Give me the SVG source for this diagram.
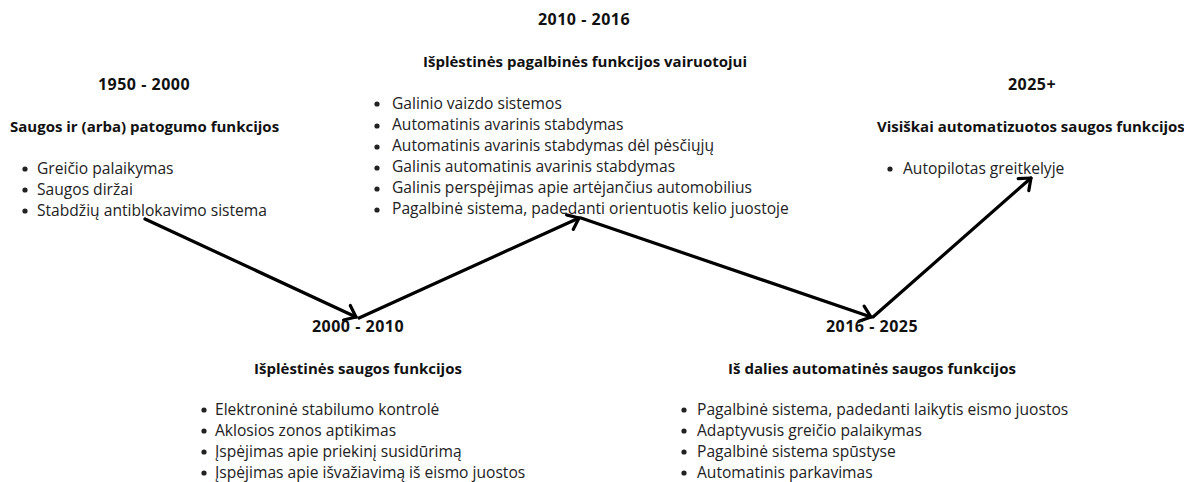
<svg xmlns="http://www.w3.org/2000/svg" width="1184" height="482" viewBox="0 0 1184 482">
  <style>
    .yr { font-family: "Open Sans", "Liberation Sans", sans-serif; font-weight: 700; font-size: 16px; letter-spacing: 0.5px; fill: #111; text-anchor: middle; }
    .hd { font-family: "Open Sans", "Liberation Sans", sans-serif; font-weight: 700; font-size: 15px; fill: #111; }
    .it { font-family: "Open Sans", "Liberation Sans", sans-serif; font-weight: 400; font-size: 15.6px; fill: #222; }
    .bul { fill: #222; }
    .conn { fill: none; stroke: #000; stroke-width: 3.2; stroke-linecap: round; }
  </style>
  <defs>
    <marker id="arrow" markerUnits="userSpaceOnUse" markerWidth="24" markerHeight="24" viewBox="-12 -12 24 24" refX="0" refY="0" orient="auto">
      <path d="M-10,-8 L0,0 L-10,8" fill="none" stroke="#000" stroke-width="3.2" stroke-linecap="round" stroke-linejoin="round"/>
    </marker>
  </defs>
  <rect width="1184" height="482" fill="#fff"/>

  <!-- connectors -->
  <g id="connectors">
    <line class="conn" x1="145" y1="219" x2="356" y2="317" marker-end="url(#arrow)"/>
    <line class="conn" x1="359" y1="318" x2="579" y2="218" marker-end="url(#arrow)"/>
    <line class="conn" x1="581" y1="218" x2="871" y2="317" marker-end="url(#arrow)"/>
    <line class="conn" x1="873" y1="317" x2="1031" y2="178" marker-end="url(#arrow)"/>
  </g>

  <!-- 1950 - 2000 -->
  <g id="era-1950">
    <text class="yr" x="144" y="90">1950 - 2000</text>
    <text class="hd" x="10" y="132">Saugos ir (arba) patogumo funkcijos</text>
    <circle class="bul" cx="25" cy="169" r="2.6"/>
    <text class="it" x="37" y="174">Greičio palaikymas</text>
    <circle class="bul" cx="25" cy="190" r="2.6"/>
    <text class="it" x="37" y="195">Saugos diržai</text>
    <circle class="bul" cx="25" cy="211" r="2.6"/>
    <text class="it" x="37" y="216">Stabdžių antiblokavimo sistema</text>
  </g>

  <!-- 2000 - 2010 -->
  <g id="era-2000">
    <text class="yr" x="358" y="332">2000 - 2010</text>
    <text class="hd" x="358" y="374" text-anchor="middle">Išplėstinės saugos funkcijos</text>
    <circle class="bul" cx="204" cy="410" r="2.6"/>
    <text class="it" x="215" y="415">Elektroninė stabilumo kontrolė</text>
    <circle class="bul" cx="204" cy="431" r="2.6"/>
    <text class="it" x="215" y="436">Aklosios zonos aptikimas</text>
    <circle class="bul" cx="204" cy="452" r="2.6"/>
    <text class="it" x="215" y="457">Įspėjimas apie priekinį susidūrimą</text>
    <circle class="bul" cx="204" cy="473" r="2.6"/>
    <text class="it" x="215" y="478">Įspėjimas apie išvažiavimą iš eismo juostos</text>
  </g>

  <!-- 2010 - 2016 -->
  <g id="era-2010">
    <text class="yr" x="584" y="25">2010 - 2016</text>
    <text class="hd" x="585" y="67" text-anchor="middle">Išplėstinės pagalbinės funkcijos vairuotojui</text>
    <circle class="bul" cx="377" cy="104" r="2.6"/>
    <text class="it" x="392" y="109">Galinio vaizdo sistemos</text>
    <circle class="bul" cx="377" cy="126" r="2.6"/>
    <text class="it" x="392" y="130">Automatinis avarinis stabdymas</text>
    <circle class="bul" cx="377" cy="147" r="2.6"/>
    <text class="it" x="392" y="151">Automatinis avarinis stabdymas dėl pėsčiųjų</text>
    <circle class="bul" cx="377" cy="168" r="2.6"/>
    <text class="it" x="392" y="172">Galinis automatinis avarinis stabdymas</text>
    <circle class="bul" cx="377" cy="189" r="2.6"/>
    <text class="it" x="392" y="193">Galinis perspėjimas apie artėjančius automobilius</text>
    <circle class="bul" cx="377" cy="210" r="2.6"/>
    <text class="it" x="392" y="214">Pagalbinė sistema, padedanti orientuotis kelio juostoje</text>
  </g>

  <!-- 2016 - 2025 -->
  <g id="era-2016">
    <text class="yr" x="872" y="332">2016 - 2025</text>
    <text class="hd" x="872" y="374" text-anchor="middle">Iš dalies automatinės saugos funkcijos</text>
    <circle class="bul" cx="684" cy="410" r="2.6"/>
    <text class="it" x="697" y="415">Pagalbinė sistema, padedanti laikytis eismo juostos</text>
    <circle class="bul" cx="684" cy="431" r="2.6"/>
    <text class="it" x="697" y="436">Adaptyvusis greičio palaikymas</text>
    <circle class="bul" cx="684" cy="452" r="2.6"/>
    <text class="it" x="697" y="457">Pagalbinė sistema spūstyse</text>
    <circle class="bul" cx="684" cy="473" r="2.6"/>
    <text class="it" x="697" y="478">Automatinis parkavimas</text>
  </g>

  <!-- 2025+ -->
  <g id="era-2025">
    <text class="yr" x="1032" y="90">2025+</text>
    <text class="hd" x="877" y="132">Visiškai automatizuotos saugos funkcijos</text>
    <circle class="bul" cx="890" cy="169" r="2.6"/>
    <text class="it" x="903" y="174">Autopilotas greitkelyje</text>
  </g>
</svg>
